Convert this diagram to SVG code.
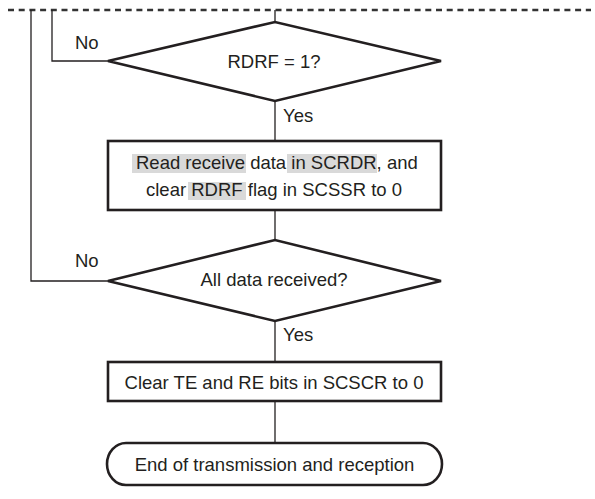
<svg xmlns="http://www.w3.org/2000/svg" width="595" height="499" viewBox="0 0 595 499">
<style>
  .shape { fill: #fff; stroke: #231f20; stroke-width: 2.6; stroke-linejoin: miter; }
  .conn { fill: none; stroke: #231f20; stroke-width: 1.3; }
  .dash { fill: none; stroke: #333; stroke-width: 2.3; stroke-dasharray: 6 4.7; }
  .t { font-family: "Liberation Sans", Arial, sans-serif; font-size: 18.5px; fill: #231f20; }
  .c { text-anchor: middle; }
  .hl { fill: #d9d9d9; stroke: none; }
</style>
<rect width="595" height="499" fill="#fff"/>
<g id="connectors">
  <line class="dash" x1="8" y1="10" x2="591" y2="10"/>
  <polyline class="conn" points="31,10 31,281 108,281"/>
  <polyline class="conn" points="52,10 52,61 108,61"/>
  <line class="conn" x1="275" y1="10" x2="275" y2="22"/>
  <line class="conn" x1="275" y1="101" x2="275" y2="141"/>
  <line class="conn" x1="275" y1="210" x2="275" y2="240"/>
  <line class="conn" x1="275" y1="321" x2="275" y2="362"/>
  <line class="conn" x1="275" y1="401" x2="275" y2="443"/>
  <text class="t" x="75" y="49">No</text>
  <text class="t" x="283" y="122">Yes</text>
  <text class="t" x="75" y="267">No</text>
  <text class="t" x="283" y="341">Yes</text>
</g>
<g id="decision1">
  <polygon class="shape" points="108,61 275,22 441,61 275,101"/>
  <text class="t c" x="274" y="67.5">RDRF = 1?</text>
</g>
<g id="process1">
  <rect class="shape" x="108" y="141" width="333" height="69"/>
  <rect class="hl" x="132" y="154" width="114" height="19"/>
  <rect class="hl" x="287" y="154" width="90" height="19"/>
  <rect class="hl" x="188" y="182" width="58" height="18"/>
  <text class="t" x="136" y="169">Read receive data in SCRDR, and</text>
  <text class="t" x="146" y="196">clear RDRF flag in SCSSR to 0</text>
</g>
<g id="decision2">
  <polygon class="shape" points="108,281 275,240 441,281 275,321"/>
  <text class="t c" x="274" y="286">All data received?</text>
</g>
<g id="process2">
  <rect class="shape" x="108" y="362" width="333" height="39"/>
  <text class="t c" x="274" y="389">Clear TE and RE bits in SCSCR to 0</text>
</g>
<g id="terminal">
  <rect class="shape" x="107" y="443" width="335" height="42" rx="19" ry="21"/>
  <text class="t c" x="274.5" y="471">End of transmission and reception</text>
</g>
</svg>
